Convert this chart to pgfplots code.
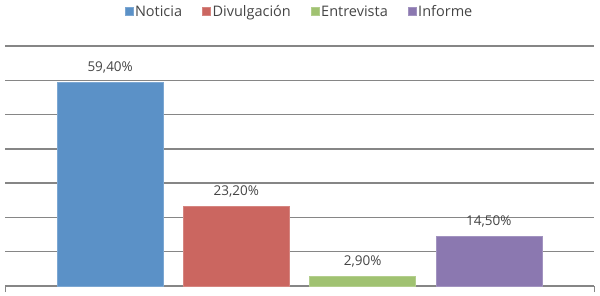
\documentclass[border=0pt]{standalone}
\usepackage{pgfplots}
\pgfplotsset{compat=1.18}
\usepackage{fontspec}
\setmainfont{Open Sans}
\definecolor{cBlue}{HTML}{5B91C7}
\definecolor{cRed}{HTML}{CB6660}
\definecolor{cGreen}{HTML}{A0C271}
\definecolor{cPurple}{HTML}{8B78B0}
\definecolor{cGrid}{HTML}{868686}
\definecolor{cText}{HTML}{454545}
\begin{document}
\begin{tikzpicture}[x=1pt,y=1pt]
\useasboundingbox (0,0) rectangle (600,295);
\begin{axis}[
  at={(5pt,9pt)}, anchor=south west,
  scale only axis, width=589pt, height=240pt,
  xmin=-0.833, xmax=3.833, ymin=0, ymax=70,
  ybar, bar width=0.84, bar shift=0pt,
  ytick={0,10,...,70}, yticklabels={},
  ymajorgrids, major grid style={cGrid, line width=1.3pt},
  axis x line*=bottom, axis y line*=left,
  y axis line style={draw=none},
  ytick style={draw=none},
  x axis line style={cGrid, line width=1.3pt},
  xtick={-0.833,3.833}, xticklabels={}, xtick pos=bottom, tick align=outside,
  major tick length=6pt, xtick style={cGrid, line width=1pt},
  point meta=explicit symbolic,
  nodes near coords={\pgfplotspointmeta},
  every node near coord/.append style={font=\fontsize{13.5}{15}\selectfont, text=cText, anchor=center, yshift=15pt},
  legend columns=4,
  legend style={at={(0.5,1.142)}, anchor=center, draw=none, fill=none,
    font=\fontsize{14.5}{16}\selectfont, text=cText,
    /tikz/every even column/.append style={column sep=18pt}},
  legend image code/.code={\fill[#1] (0pt,-3.5pt) rectangle (8pt,4.5pt);},
]
\addplot[draw=cBlue!80!white, fill=cBlue] coordinates {(0,59.4) [59,40\%]};
\addplot[draw=cRed!80!white, fill=cRed] coordinates {(1,23.2) [23,20\%]};
\addplot[draw=cGreen!80!white, fill=cGreen] coordinates {(2,2.9) [2,90\%]};
\addplot[draw=cPurple!80!white, fill=cPurple] coordinates {(3,14.5) [14,50\%]};
\legend{Noticia,Divulgación,Entrevista,Informe}
\end{axis}
\end{tikzpicture}
\end{document}
